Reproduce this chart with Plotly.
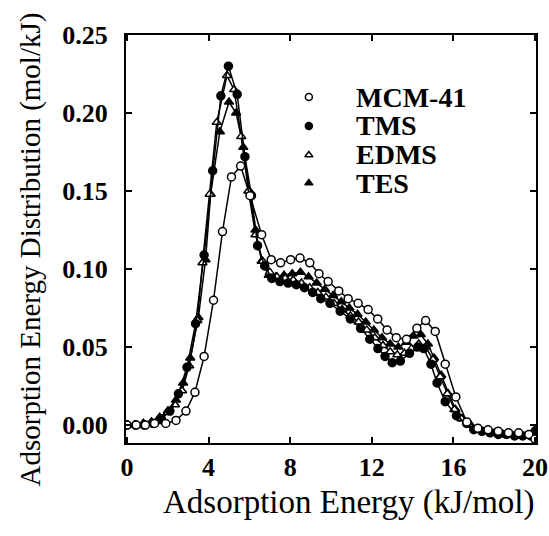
import plotly.graph_objects as go

# ---- data ----
mcm_x = [0, 0.45, 0.9, 1.35, 1.9, 2.4, 2.89, 3.33, 3.78, 4.24, 4.68, 5.12, 5.57, 6.03, 6.6, 7.07, 7.53,
         8.02, 8.48, 8.96, 9.41, 9.86, 10.38, 10.84, 11.33, 11.82, 12.29, 12.75, 13.2, 13.7, 14.21, 14.64,
         15.11, 15.6, 16.12, 16.66, 17.2, 17.7, 18.2, 18.7, 19.2, 19.7, 20.0]
mcm_y = [0.000, 0.000, 0.000, 0.001, 0.001, 0.003, 0.009, 0.021, 0.044, 0.080, 0.124, 0.159, 0.166, 0.147,
         0.122, 0.106, 0.104, 0.106, 0.107, 0.104, 0.097, 0.092, 0.086, 0.081, 0.078, 0.074, 0.068, 0.061,
         0.056, 0.055, 0.062, 0.067, 0.060, 0.039, 0.018, 0.002, -0.002, -0.003, -0.004, -0.005, -0.005,
         -0.006, -0.009]

tms_x = [0, 0.42, 0.84, 1.26, 1.68, 2.1, 2.52, 2.94, 3.36, 3.78, 4.2, 4.6, 4.97, 5.4, 5.78, 6.1, 6.4,
         6.75, 7.1, 7.5, 7.9, 8.3, 8.7, 9.1, 9.5, 9.95, 10.45, 10.95, 11.45, 11.9, 12.3, 12.65, 13.0, 13.4,
         13.85, 14.25, 14.55, 14.9, 15.2, 15.6, 16.15, 16.65, 17.0, 17.4, 17.8, 18.2, 18.6, 19.0, 19.4,
         19.8, 20.0]
tms_y = [0.000, 0.000, 0.000, 0.001, 0.004, 0.009, 0.020, 0.037, 0.065, 0.109, 0.163, 0.211, 0.230, 0.212,
         0.172, 0.147, 0.115, 0.102, 0.094, 0.092, 0.091, 0.090, 0.088, 0.085, 0.081, 0.078, 0.073, 0.068,
         0.062, 0.055, 0.049, 0.044, 0.040, 0.041, 0.046, 0.050, 0.049, 0.039, 0.027, 0.015, 0.006, 0.001,
         -0.003, -0.004, -0.005, -0.006, -0.006, -0.007, -0.007, -0.007, -0.004]

edms_x = [0, 0.4, 0.8, 1.2, 1.6, 2.0, 2.35, 2.7, 3.05, 3.45, 3.7, 4.05, 4.4, 4.9, 5.25, 5.6, 5.95, 6.3,
          6.65, 7.0, 7.35, 7.75, 8.15, 8.55, 8.95, 9.35, 9.75, 10.15, 10.55, 10.95, 11.35, 11.75, 12.15,
          12.55, 12.9, 13.25, 13.6, 13.95, 14.3, 14.65, 15.0, 15.35, 15.7, 16.05, 16.4, 16.8, 17.2, 17.6,
          18.0, 18.4, 18.8, 19.2, 19.6, 20.0]
edms_y = [0.000, 0.000, 0.001, 0.002, 0.004, 0.008, 0.013, 0.022, 0.038, 0.067, 0.104, 0.148, 0.194, 0.224,
          0.215, 0.185, 0.150, 0.122, 0.105, 0.098, 0.095, 0.094, 0.093, 0.091, 0.088, 0.085, 0.082, 0.078,
          0.074, 0.070, 0.066, 0.061, 0.056, 0.051, 0.047, 0.045, 0.046, 0.049, 0.052, 0.050, 0.042, 0.031,
          0.020, 0.010, 0.004, 0.000, -0.003, -0.004, -0.005, -0.006, -0.006, -0.007, -0.007, -0.005]

tes_x = [0, 0.4, 0.8, 1.2, 1.6, 2.0, 2.4, 2.75, 3.1, 3.5, 3.85, 4.1, 4.55, 5.0, 5.35, 5.7, 6.0, 6.3, 6.6,
         6.95, 7.3, 7.7, 8.1, 8.5, 8.9, 9.3, 9.7, 10.1, 10.5, 10.9, 11.3, 11.7, 12.1, 12.5, 12.9, 13.3,
         13.7, 14.05, 14.4, 14.75, 15.05, 15.4, 15.75, 16.1, 16.45, 16.85, 17.25, 17.65, 18.05, 18.45,
         18.85, 19.25, 19.65, 20.0]
tes_y = [0.000, 0.000, 0.001, 0.002, 0.005, 0.009, 0.016, 0.027, 0.043, 0.069, 0.106, 0.148, 0.188, 0.207,
         0.200, 0.178, 0.150, 0.125, 0.105, 0.096, 0.095, 0.096, 0.097, 0.098, 0.095, 0.091, 0.087, 0.083,
         0.079, 0.075, 0.071, 0.066, 0.061, 0.056, 0.052, 0.050, 0.053, 0.057, 0.058, 0.052, 0.043, 0.032,
         0.020, 0.010, 0.004, 0.000, -0.003, -0.004, -0.005, -0.006, -0.006, -0.007, -0.007, -0.003]

series_names = ["MCM-41", "TMS", "EDMS", "TES"]
x_ticks = [0, 4, 8, 12, 16, 20]
y_ticks = [0.00, 0.05, 0.10, 0.15, 0.20, 0.25]

# ---- styling ----
styles = {
    "MCM-41": dict(symbol="circle", color="white"),
    "TMS": dict(symbol="circle", color="black"),
    "EDMS": dict(symbol="triangle-up", color="white"),
    "TES": dict(symbol="triangle-up", color="black"),
}
data = {"MCM-41": (mcm_x, mcm_y), "TMS": (tms_x, tms_y), "EDMS": (edms_x, edms_y), "TES": (tes_x, tes_y)}

fig = go.Figure()
for name in ["TES", "EDMS", "TMS", "MCM-41"]:
    xs, ys = data[name]
    st = styles[name]
    fig.add_trace(go.Scatter(
        x=xs, y=ys, mode="lines+markers", showlegend=False, name=name,
        line=dict(color="black", width=1.5),
        marker=dict(symbol=st["symbol"], size=8, color=st["color"],
                    line=dict(color="black", width=1.5)),
    ))

# hand-placed legend: markers on an overlay (0..1) axis, labels as annotations
font_family = "Liberation Serif, Times New Roman, serif"
leg_marker_x = 0.446
leg_text_x = 0.556
leg_rows = [0.848, 0.777, 0.706, 0.637]
for name, ry in zip(series_names, leg_rows):
    st = styles[name]
    fig.add_trace(go.Scatter(
        x=[leg_marker_x], y=[ry], xaxis="x2", yaxis="y2", mode="markers", showlegend=False,
        marker=dict(symbol=st["symbol"], size=7, color=st["color"],
                    line=dict(color="black", width=1.5)),
        hoverinfo="skip",
    ))
    fig.add_annotation(x=leg_text_x, y=ry, xref="paper", yref="paper", text=name,
                       showarrow=False, xanchor="left", yanchor="middle",
                       font=dict(family=font_family, size=28, color="black", weight="bold"))

# axis titles as annotations
fig.add_annotation(x=0.545, y=-0.145, xref="paper", yref="paper", text="Adsorption Energy (kJ/mol)",
                   showarrow=False, xanchor="center", yanchor="middle",
                   font=dict(family=font_family, size=33, color="black"))
fig.add_annotation(x=-0.232, y=0.474, xref="paper", yref="paper",
                   text="Adsorption Energy Distribution (mol/kJ)", textangle=-90,
                   showarrow=False, xanchor="center", yanchor="middle",
                   font=dict(family=font_family, size=29, color="black"))

fig.update_layout(
    width=549, height=536,
    margin=dict(l=126, r=13, t=35, b=93),
    paper_bgcolor="white", plot_bgcolor="white",
    font=dict(family=font_family, color="black"),
    showlegend=False,
    xaxis=dict(
        range=[-0.05, 20.05], tickvals=x_ticks, ticktext=[str(v) for v in x_ticks],
        ticks="inside", ticklen=6, tickwidth=1.5, tickcolor="black",
        showline=True, linecolor="black", linewidth=2, mirror="ticks",
        showgrid=False, zeroline=False, automargin=False,
        tickfont=dict(family=font_family, size=26, color="black", weight="bold"),
    ),
    yaxis=dict(
        range=[-0.0115, 0.25], tickvals=y_ticks, ticktext=[f"{v:.2f}" for v in y_ticks],
        ticks="inside", ticklen=6, tickwidth=1.5, tickcolor="black",
        showline=True, linecolor="black", linewidth=2, mirror="ticks",
        showgrid=False, zeroline=False, automargin=False, ticklabelstandoff=11,
        tickfont=dict(family=font_family, size=26, color="black", weight="bold"),
    ),
    xaxis2=dict(range=[0, 1], overlaying="x", visible=False, fixedrange=True),
    yaxis2=dict(range=[0, 1], overlaying="y", visible=False, fixedrange=True),
)

fig.write_html("out.html", config={"displayModeBar": False},
               post_script="document.body.style.margin='0';document.body.style.overflow='hidden';")
